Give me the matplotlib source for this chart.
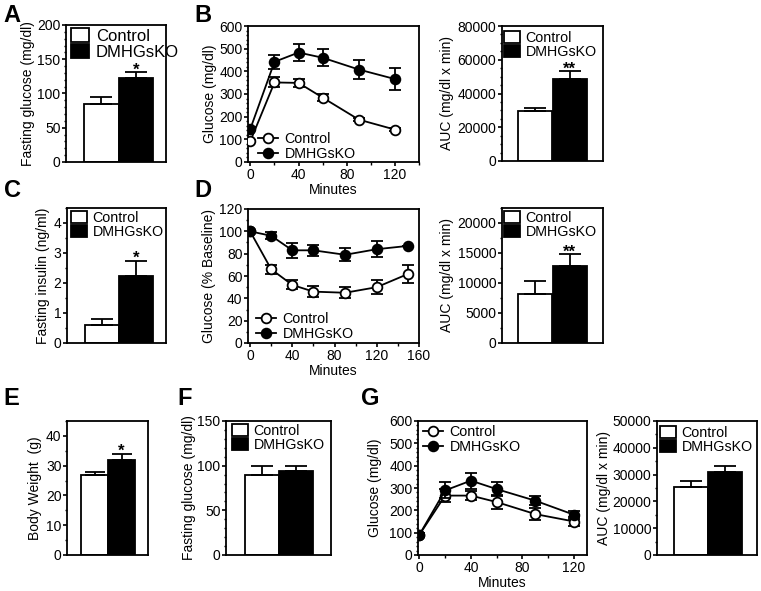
import matplotlib
matplotlib.use('Agg')
import matplotlib.pyplot as plt
from matplotlib.ticker import AutoMinorLocator, MultipleLocator

plt.rcParams['font.family'] = ['Liberation Sans', 'DejaVu Sans']
plt.rcParams['font.size'] = 10

# ---------------- data ----------------
groups = ['Control', 'DMHGsKO']

a_vals = [85, 122]
a_errs = [10, 9]

b_time = [0, 20, 40, 60, 90, 120]
b_ctrl = [93, 351, 349, 284, 187, 143]
b_ctrl_err = [5, 22, 18, 15, 5, 5]
b_ko = [147, 442, 483, 460, 408, 366]
b_ko_err = [6, 32, 37, 37, 43, 48]
b_auc = [29500, 48800]
b_auc_err = [1700, 4400]

c_vals = [0.6, 2.23]
c_errs = [0.2, 0.51]

d_time = [0, 20, 40, 60, 90, 120, 150]
d_ctrl = [100, 66, 52, 46, 45, 50, 62]
d_ctrl_err = [0, 4, 4, 5, 5, 6, 8]
d_ko = [100, 96, 83, 83, 79, 84, 87]
d_ko_err = [0, 3, 6.5, 5, 6, 7, 0]
d_auc = [8200, 12800]
d_auc_err = [2150, 1950]

e_vals = [26.7, 31.9]
e_errs = [1.3, 2.0]

f_vals = [89, 94]
f_errs = [10.5, 6]

g_time = [0, 20, 40, 60, 90, 120]
g_ctrl = [90, 266, 266, 237, 183, 150]
g_ctrl_err = [8, 30, 20, 33, 26, 18]
g_ko = [90, 289, 333, 295, 243, 180]
g_ko_err = [8, 36, 36, 33, 20, 18]
g_auc = [25300, 30800]
g_auc_err = [2400, 2500]

# ---------------- layout ----------------
W, H = 761, 591
fig = plt.figure(figsize=(W / 100, H / 100), dpi=100)
LW = 1.3
TICK_FS = 10
LABEL_FS = 10
LEG_FS = 10.3


def add_ax(l, t, r, b):
    return fig.add_axes([l / W, 1 - b / H, (r - l) / W, (b - t) / H])


def style(ax):
    for s in ax.spines.values():
        s.set_linewidth(LW)
    ax.tick_params(which='major', direction='out', length=3, width=1.2, labelsize=TICK_FS, pad=1)
    ax.tick_params(which='minor', direction='out', length=1.8, width=1.0)


def px2ax(box, x, y):
    l, t, r, b = box
    return ((x - l) / (r - l), 1 - (y - t) / (b - t))


def set_ylabel(ax, box, text, right_px):
    ax.set_ylabel(text, fontsize=LABEL_FS)
    ax.yaxis.set_label_coords(px2ax(box, right_px, 0)[0], 0.5)


def bar_panel(box, vals, errs, ylim, major, nminor, xlim, ylabel, lab_px,
              star=None, leg=None, capsize=8, legfs=LEG_FS):
    ax = add_ax(*box)
    colors = ['white', 'black']
    for i in range(2):
        ax.bar(i, vals[i], width=1, color=colors[i], edgecolor='black', linewidth=LW,
               label=groups[i], zorder=2)
        ax.errorbar(i, vals[i], yerr=[[0], [errs[i]]], fmt='none', ecolor='black',
                    elinewidth=LW, capsize=capsize, capthick=LW, zorder=3)
    ax.set_xlim(*xlim)
    ax.set_ylim(*ylim)
    ax.yaxis.set_major_locator(MultipleLocator(major))
    ax.yaxis.set_minor_locator(AutoMinorLocator(nminor))
    ax.set_xticks([])
    set_ylabel(ax, box, ylabel, lab_px)
    style(ax)
    if star:
        ax.annotate(star, xy=(1, vals[1] + errs[1]), xytext=(0, -1.5), textcoords='offset points',
                    ha='center', va='baseline', fontsize=12, fontweight='bold')
    if leg:
        ax.legend(loc='upper left', bbox_to_anchor=px2ax(box, *leg), frameon=False,
                  handlelength=1.1, handleheight=0.95, handletextpad=0.4, labelspacing=0.0,
                  borderaxespad=0, borderpad=0, fontsize=legfs)
    return ax


def line_panel(box, t, ctrl, ctrl_err, ko, ko_err, xlim, ylim, xmajor, ymajor, nminor,
               ylabel, lab_px, leg, legloc):
    ax = add_ax(*box)
    e1 = ax.errorbar(t, ctrl, yerr=ctrl_err, fmt='-o', color='black', mfc='white', mec='black',
                     ms=7, mew=1.3, lw=LW, elinewidth=LW, capsize=4, capthick=LW, zorder=3)
    e2 = ax.errorbar(t, ko, yerr=ko_err, fmt='-o', color='black', mfc='black', mec='black',
                     ms=7, mew=1.3, lw=LW, elinewidth=LW, capsize=4, capthick=LW, zorder=4)
    ax.set_xlim(*xlim)
    ax.set_ylim(*ylim)
    ax.xaxis.set_major_locator(MultipleLocator(xmajor))
    ax.xaxis.set_minor_locator(AutoMinorLocator(2))
    ax.yaxis.set_major_locator(MultipleLocator(ymajor))
    ax.yaxis.set_minor_locator(AutoMinorLocator(nminor))
    ax.set_xlabel('Minutes', labelpad=1, fontsize=LABEL_FS)
    set_ylabel(ax, box, ylabel, lab_px)
    style(ax)
    ax.legend([e1[0], e2[0]], groups, loc=legloc, bbox_to_anchor=px2ax(box, *leg),
              frameon=False, numpoints=1, handlelength=1.4, handletextpad=0.45,
              labelspacing=0.05, borderaxespad=0, borderpad=0, fontsize=LEG_FS)
    return ax


# A
bar_panel((66, 25, 166, 162), a_vals, a_errs, (0, 200), 50, 5, (-1.03, 1.88),
          'Fasting glucose (mg/dl)', 35, star='*', leg=(71, 28), legfs=12)
# B
line_panel((248, 26, 419, 162), b_time, b_ctrl, b_ctrl_err, b_ko, b_ko_err,
           (-2, 140), (0, 600), 40, 100, 5, 'Glucose (mg/dl)', 217, (258, 161), 'lower left')
bar_panel((502, 26, 603, 161), b_auc, b_auc_err, (0, 80000), 20000, 4, (-0.96, 1.96),
          'AUC (mg/dl x min)', 454, star='**', leg=(504, 31))
# C
bar_panel((67, 208, 166, 343), c_vals, c_errs, (0, 4.5), 1, 2, (-1.03, 1.88),
          'Fasting insulin (ng/ml)', 50, star='*', leg=(71, 211))
# D
line_panel((248, 209, 419, 343), d_time, d_ctrl, d_ctrl_err, d_ko, d_ko_err,
           (-2, 160), (0, 120), 40, 20, 2, 'Glucose (% Baseline)', 216, (256, 341), 'lower left')
bar_panel((502, 208, 603, 343), d_auc, d_auc_err, (0, 22500), 5000, 2, (-0.96, 1.96),
          'AUC (mg/dl x min)', 454, star='**', leg=(504, 211))
# E
bar_panel((67, 421, 148, 555), e_vals, e_errs, (0, 45), 10, 2, (-1.02, 1.98),
          'Body Weight  (g)', 42, star='*', capsize=7)
# F
bar_panel((226, 421, 331, 555), f_vals, f_errs, (0, 150), 50, 5, (-1.06, 2.03),
          'Fasting glucose (mg/dl)', 196, leg=(232, 424))
# G
line_panel((418, 421, 587, 555), g_time, g_ctrl, g_ctrl_err, g_ko, g_ko_err,
           (-1, 130), (0, 600), 40, 100, 5, 'Glucose (mg/dl)', 382, (423, 425), 'upper left')
bar_panel((657, 421, 757, 555), g_auc, g_auc_err, (0, 50000), 10000, 2, (-1.0, 1.94),
          'AUC (mg/dl x min)', 611, leg=(660, 426))

# panel letters
for letter, x, y in [('A', 3, 22), ('B', 194, 22), ('C', 4, 197), ('D', 194, 197),
                     ('E', 3, 405), ('F', 177, 405), ('G', 361, 405)]:
    fig.text(x / W, 1 - y / H, letter, fontsize=17, fontweight='bold', va='baseline', ha='left')

fig.savefig('out.png', dpi=100)
